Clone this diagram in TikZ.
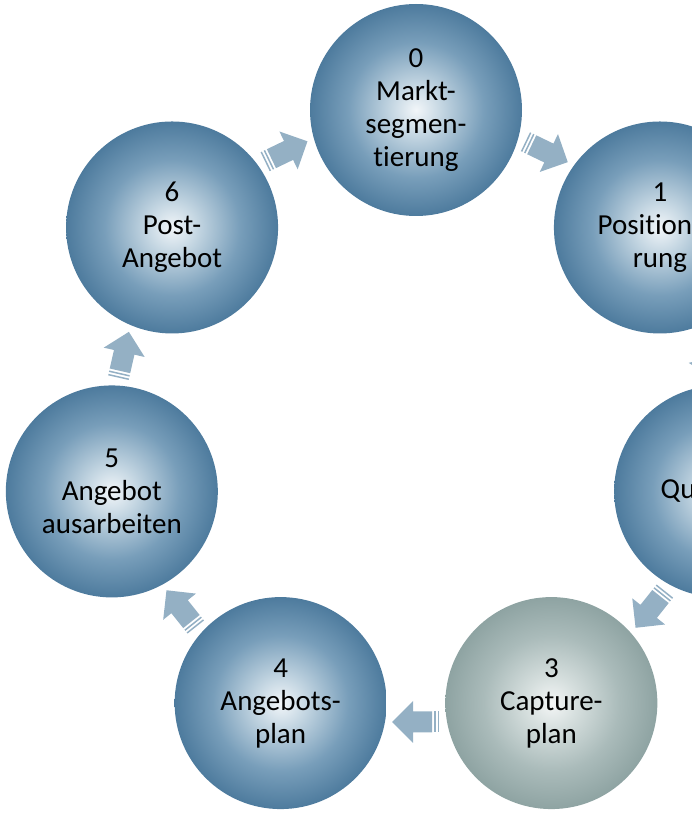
\documentclass[tikz,border=0pt]{standalone}
\usepackage{fontspec}
\setmainfont{Carlito}[Ligatures={NoCommon}]
\usetikzlibrary{calc}

\definecolor{arrowfill}{HTML}{94B0C4}
% radial fills; the circle rim sits at about 35bp of the shading
\pgfdeclareradialshading{ballblue}{\pgfpoint{0bp}{0bp}}{%
  color(0bp)=(rgb,255:red,242;green,246;blue,249);
  color(6bp)=(rgb,255:red,196;green,214;blue,226);
  color(16bp)=(rgb,255:red,120;green,158;blue,186);
  color(27bp)=(rgb,255:red,68;green,115;blue,151);
  color(35bp)=(rgb,255:red,40;green,88;blue,126);
  color(50bp)=(rgb,255:red,40;green,88;blue,126)}
\pgfdeclareradialshading{ballgrey}{\pgfpoint{0bp}{0bp}}{%
  color(0bp)=(rgb,255:red,244;green,246;blue,246);
  color(6bp)=(rgb,255:red,214;green,223;blue,222);
  color(16bp)=(rgb,255:red,170;green,187;blue,186);
  color(27bp)=(rgb,255:red,136;green,158;blue,157);
  color(35bp)=(rgb,255:red,118;green,144;blue,143);
  color(50bp)=(rgb,255:red,118;green,144;blue,143)}

\tikzset{
  ball/.style={circle, minimum size=212pt, inner sep=0pt, align=center,
    font=\fontsize{29}{33}\selectfont, text=black},
  blueball/.style={ball, shading=ballblue},
  greyball/.style={ball, shading=ballgrey},
  stripedarrow/.pic={
    \fill[arrowfill] (-16,-10.5) -- (3,-10.5) -- (3,-21) -- (24,0) -- (3,21)
      -- (3,10.5) -- (-16,10.5) -- cycle;
    \fill[arrowfill] (-19.5,-10.5) rectangle (-18,10.5);
    \fill[arrowfill] (-23,-10.5) rectangle (-21.5,10.5);
  }
}

\begin{document}
\begin{tikzpicture}[x=1pt, y=1pt]
\useasboundingbox (0,0) rectangle (692,815);
\clip (0,0) rectangle (692,815);
\coordinate (O) at (416,393);

% block arrows between neighbouring stages, running clockwise
\foreach \k in {0,...,6}{
  \pic[rotate={-(\k+0.5)*360/7}] at ($(O)+({90-(\k+0.5)*360/7}:300)$) {stripedarrow};
}

% the seven stages
\node[blueball] (c0) at ($(O)+(90:312)$) {0\\Markt-\\segmen-\\tierung};
\node[blueball] (c1) at ($(O)+({90-360/7}:312)$) {1\\Positionie-\\rung};
\node[blueball] (c2) at ($(O)+({90-2*360/7}:312)$) {2\\Qualifizie-\\rung};
\node[greyball] (c3) at ($(O)+({90-3*360/7}:312)$) {3\\Capture-\\plan};
\node[blueball] (c4) at ($(O)+({90-4*360/7}:312)$) {4\\Angebots-\\plan};
\node[blueball] (c5) at ($(O)+({90-5*360/7}:312)$) {5\\Angebot\\ausarbeiten};
\node[blueball] (c6) at ($(O)+({90-6*360/7}:312)$) {6\\Post-\\Angebot};
\end{tikzpicture}
\end{document}
